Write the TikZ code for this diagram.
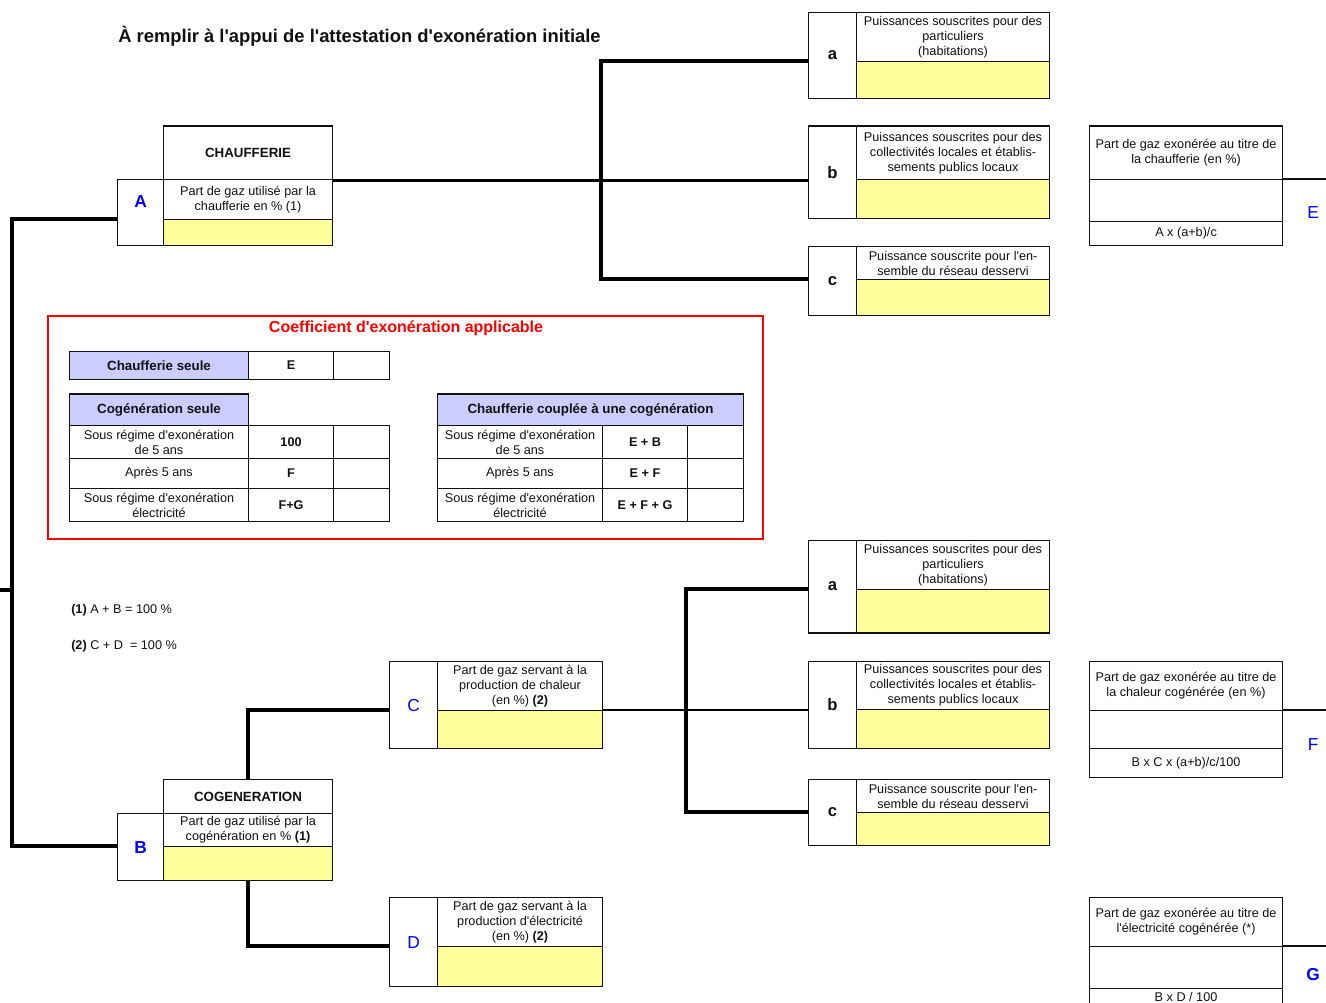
\documentclass[tikz,border=0pt]{standalone}
\usepackage{fontspec}
\setmainfont{Liberation Sans}[Ligatures=TeXOff]
\usetikzlibrary{calc}
\definecolor{cellyellow}{HTML}{FFFF99}
\definecolor{lav}{HTML}{CCCCFF}
\definecolor{lblue}{HTML}{0000FF}
\definecolor{lred}{HTML}{FF0000}
\definecolor{ink}{HTML}{111111}
\newcommand\mycell[7]{\node[#6, minimum width={(#4-#2)*0.75pt}, minimum height={(#5-#3)*0.75pt}] (#1) at (#2,#3) {#7};}
\tikzset{
  cell/.style={draw=ink, line width=0.8pt, inner sep=1pt, align=center, anchor=north west, text=ink,
    font=\fontsize{9.5}{11.2}\selectfont},
  yel/.style={cell, fill=cellyellow},
  hdr/.style={cell, fill=lav, font=\bfseries\fontsize{10}{12}\selectfont},
  boldcell/.style={cell, font=\bfseries\fontsize{9.5}{11.2}\selectfont},
  nodraw/.style={cell, draw=none},
  letterR/.style={text=lblue, font=\fontsize{13}{15}\selectfont},
  letterB/.style={text=lblue, font=\bfseries\fontsize{13}{15}\selectfont},
  abc/.style={font=\bfseries\fontsize{12.5}{15}\selectfont},
  conn/.style={line width=2.8pt, draw=black},
  connthin/.style={line width=2.2pt, draw=black},
  thickedge/.style={line width=1.8pt, draw=ink},
  thinline/.style={line width=0.8pt, draw=ink},
  note/.style={anchor=west, inner sep=0pt, text=ink, font=\fontsize{9.5}{11}\selectfont}
}
\begin{document}
\begin{tikzpicture}[x=0.75pt,y=-0.75pt]
\useasboundingbox (0,0) rectangle (1326,1002);

\node[anchor=west, inner sep=0pt, text=ink, font=\bfseries\fontsize{13.8}{16}\selectfont] (title) at (118,36) {À remplir à l'appui de l'attestation d'exonération initiale};

% CHAUFFERIE block
\mycell{Ahdr}{163}{126}{332}{179}{cell, font=\bfseries\fontsize{10}{12}\selectfont}{CHAUFFERIE}
\mycell{Alab}{117}{179}{163}{245}{cell, letterB}{\raisebox{16pt}{A}}
\mycell{Atxt}{163}{179}{332}{219}{cell}{Part de gaz utilisé par la\\chaufferie en \% (1)}
\mycell{Ayel}{163}{219}{332}{245}{yel}{}
\draw[thickedge] (Ahdr.north west) -- (Ahdr.north east);

% top a b c
\mycell{alab1}{808}{12}{856}{98}{cell, abc}{a}
\mycell{atxt1}{856}{12}{1049}{61}{cell}{Puissances souscrites pour des\\particuliers\\(habitations)}
\mycell{ayel1}{856}{61}{1049}{98}{yel}{}
\mycell{blab1}{808}{126}{856}{218}{cell, abc}{b}
\mycell{btxt1}{856}{126}{1049}{179}{cell}{Puissances souscrites pour des\\collectivités locales et établis-\\sements publics locaux}
\mycell{byel1}{856}{179}{1049}{218}{yel}{}
\draw[thickedge] (blab1.north west) -- (btxt1.north east);
\mycell{clab1}{808}{246}{856}{315}{cell, abc}{c}
\mycell{ctxt1}{856}{246}{1049}{279}{cell}{Puissance souscrite pour l'en-\\semble du réseau desservi}
\mycell{cyel1}{856}{279}{1049}{315}{yel}{}

% E box
\mycell{Ehdr}{1089}{126}{1282}{179}{cell}{Part de gaz exonérée au titre de\\la chaufferie (en \%)}
\mycell{Emid}{1089}{179}{1282}{221}{cell}{}
\mycell{Efor}{1089}{221}{1282}{245}{cell}{A x (a+b)/c}
\mycell{Elab}{1282}{179}{1326}{245}{nodraw, letterR}{\hspace{13pt}E}
\draw[thickedge] (Ehdr.north west) -- (Ehdr.north east);
\draw[thinline] (Emid.north east) -- (Elab.north east);

% red box
\node[draw=lred, line width=1.5pt, anchor=north west, inner sep=0pt,
  minimum width={(762-47)*0.75pt}, minimum height={(538-315)*0.75pt}] (redbox) at (47,315) {};
\node[text=lred, inner sep=0pt, font=\bfseries\fontsize{12}{14}\selectfont] (redtitle) at (406,328) {Coefficient d'exonération applicable};

\mycell{cs1}{69}{351}{248}{379}{hdr}{Chaufferie seule}
\mycell{cs2}{248}{351}{333}{379}{boldcell}{E}
\mycell{cs3}{333}{351}{389}{379}{cell}{}

\mycell{cg0}{69}{394}{248}{425}{hdr}{Cogénération seule}
\draw[thickedge] (cg0.north west) -- (cg0.north east);
\mycell{cg11}{69}{425}{248}{458}{cell}{Sous régime d'exonération\\de 5 ans}
\mycell{cg12}{248}{425}{333}{458}{boldcell}{100}
\mycell{cg13}{333}{425}{389}{458}{cell}{}
\mycell{cg21}{69}{458}{248}{488}{cell}{Après 5 ans}
\mycell{cg22}{248}{458}{333}{488}{boldcell}{F}
\mycell{cg23}{333}{458}{389}{488}{cell}{}
\mycell{cg31}{69}{488}{248}{521}{cell}{Sous régime d'exonération\\électricité}
\mycell{cg32}{248}{488}{333}{521}{boldcell}{F+G}
\mycell{cg33}{333}{488}{389}{521}{cell}{}

\mycell{cc0}{437}{394}{743}{425}{hdr}{Chaufferie couplée à une cogénération}
\draw[thickedge] (cc0.north west) -- (cc0.north east);
\mycell{cc11}{437}{425}{602}{458}{cell}{Sous régime d'exonération\\de 5 ans}
\mycell{cc12}{602}{425}{687}{458}{boldcell}{E + B}
\mycell{cc13}{687}{425}{743}{458}{cell}{}
\mycell{cc21}{437}{458}{602}{488}{cell}{Après 5 ans}
\mycell{cc22}{602}{458}{687}{488}{boldcell}{E + F}
\mycell{cc23}{687}{458}{743}{488}{cell}{}
\mycell{cc31}{437}{488}{602}{521}{cell}{Sous régime d'exonération\\électricité}
\mycell{cc32}{602}{488}{687}{521}{boldcell}{E + F + G}
\mycell{cc33}{687}{488}{743}{521}{cell}{}

% notes
\node[note] (n1) at (71,610) {\textbf{(1)} A + B = 100 \%};
\node[note] (n2) at (71,646) {\textbf{(2)} C + D~ = 100 \%};

% bottom a b c
\mycell{alab2}{808}{540}{856}{632}{cell, abc}{a}
\mycell{atxt2}{856}{540}{1049}{589}{cell}{Puissances souscrites pour des\\particuliers\\(habitations)}
\mycell{ayel2}{856}{589}{1049}{632}{yel}{}
\draw[thickedge] (alab2.south west) -- (ayel2.south east);
\mycell{blab2}{808}{661}{856}{748}{cell, abc}{b}
\mycell{btxt2}{856}{661}{1049}{709}{cell}{Puissances souscrites pour des\\collectivités locales et établis-\\sements publics locaux}
\mycell{byel2}{856}{709}{1049}{748}{yel}{}
\mycell{clab2}{808}{779}{856}{845}{cell, abc}{c}
\mycell{ctxt2}{856}{779}{1049}{812}{cell}{Puissance souscrite pour l'en-\\semble du réseau desservi}
\mycell{cyel2}{856}{812}{1049}{845}{yel}{}

% C box
\mycell{Clab}{389}{661}{437}{748}{cell, letterR}{C}
\mycell{Ctxt}{437}{661}{602}{710}{cell}{Part de gaz servant à la\\production de chaleur\\(en \%) \textbf{(2)}}
\mycell{Cyel}{437}{710}{602}{748}{yel}{}

% COGENERATION block
\mycell{Bhdr}{163}{779}{332}{813}{cell, font=\bfseries\fontsize{10}{12}\selectfont}{COGENERATION}
\mycell{Blab}{117}{813}{163}{880}{cell, letterB}{B}
\mycell{Btxt}{163}{813}{332}{846}{cell}{Part de gaz utilisé par la\\cogénération en \% \textbf{(1)}}
\mycell{Byel}{163}{846}{332}{880}{yel}{}

% D box
\mycell{Dlab}{389}{897}{437}{986}{cell, letterR}{D}
\mycell{Dtxt}{437}{897}{602}{946}{cell}{Part de gaz servant à la\\production d'électricité\\(en \%) \textbf{(2)}}
\mycell{Dyel}{437}{946}{602}{986}{yel}{}

% F box
\mycell{Fhdr}{1089}{661}{1282}{710}{cell}{Part de gaz exonérée au titre de\\la chaleur cogénérée (en \%)}
\mycell{Fmid}{1089}{710}{1282}{748}{cell}{}
\mycell{Ffor}{1089}{748}{1282}{777}{cell}{B x C x (a+b)/c/100}
\mycell{Flab}{1282}{710}{1326}{777}{nodraw, letterR}{\hspace{13pt}F}
\draw[thinline] (Fmid.north east) -- (Flab.north east);

% G box
\mycell{Ghdr}{1089}{897}{1282}{946}{cell}{Part de gaz exonérée au titre de\\l'électricité cogénérée (*)}
\mycell{Gmid}{1089}{946}{1282}{988}{cell}{}
\mycell{Gfor}{1089}{988}{1282}{1004}{cell}{B x D / 100}
\mycell{Glab}{1282}{946}{1326}{1002}{nodraw, letterB}{\hspace{13pt}G}
\draw[thinline] (Gmid.north east) -- (Glab.north east);

% connectors
\coordinate (spine) at (12,590);
\coordinate (stub) at (0,590);
\draw[conn] (Alab.west |- Ayel.north) -| (spine) |- (Blab.west |- Byel.north);
\draw[conn] (stub) -- (spine);

\coordinate (j1) at (601,179);
\draw[connthin] (Ahdr.south east) -- (Ahdr.south east -| blab1.west);
\draw[conn] (alab1.west |- ayel1.north) -| (j1) |- (clab1.west |- cyel1.north);

\coordinate (j2) at (686,710);
\draw[connthin] (Cyel.north east) -- (Cyel.north east -| blab2.west);
\draw[conn] (alab2.west |- ayel2.north) -| (j2) |- (clab2.west |- cyel2.north);

\draw[conn] (Bhdr.north) |- (Clab.west |- Cyel.north);
\draw[conn] (Byel.south) |- (Dlab.west |- Dyel.north);
\end{tikzpicture}
\end{document}
